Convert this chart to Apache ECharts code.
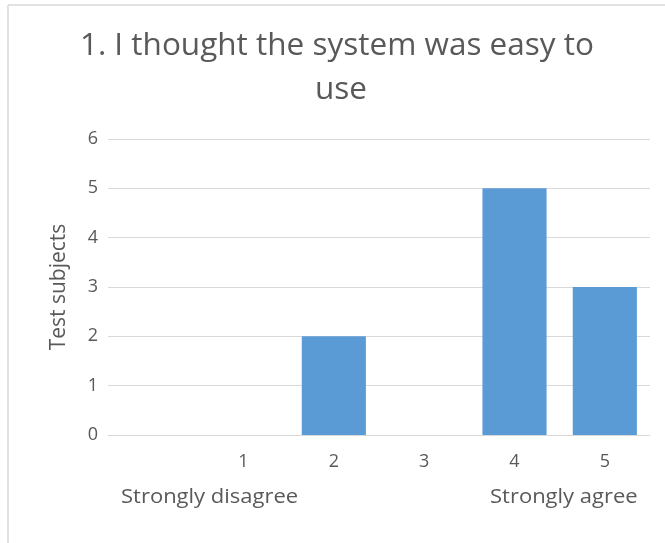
<!DOCTYPE html>
<html><head><meta charset="utf-8">
<script src="https://cdn.jsdelivr.net/npm/echarts@6/dist/echarts.min.js"></script>
<style>html,body{margin:0;padding:0;background:#fff}#c{width:665px;height:543px}</style>
</head><body><div id="c"></div>
<script>
var titleText = "1. I thought the system was easy to \nuse";
var categories = ["", "1", "2", "3", "4", "5"];
var values = [0, 0, 2, 0, 5, 3];
var yTicks = [0, 1, 2, 3, 4, 5, 6];
var yName = "Test subjects";
var lowLabel = "Strongly disagree";
var highLabel = "Strongly agree";

var chart = echarts.init(document.getElementById('c'));
var fontFam = '"Open Sans", sans-serif';
chart.setOption({
  animation: false,
  title: {
    text: titleText, left: 336, top: 19, textAlign: 'center',
    textStyle: {fontFamily: fontFam, fontSize: 31.5, fontWeight: 'normal', color: '#595959', lineHeight: 44}
  },
  grid: {left: 108, right: 15, top: 139, bottom: 108},
  xAxis: {
    type: 'category', data: categories,
    axisLine: {lineStyle: {color: '#d9d9d9', width: 1}},
    axisTick: {show: false},
    axisLabel: {color: '#595959', fontFamily: fontFam, fontSize: 18, margin: 18}
  },
  yAxis: {
    type: 'value', min: yTicks[0], max: yTicks[yTicks.length-1], interval: 1,
    name: yName, nameLocation: 'middle', nameGap: 38,
    nameTextStyle: {color: '#595959', fontFamily: fontFam, fontSize: 21},
    axisLine: {show: false}, axisTick: {show: false},
    axisLabel: {color: '#595959', fontFamily: fontFam, fontSize: 18, margin: 10},
    splitLine: {lineStyle: {color: '#d9d9d9', width: 1}}
  },
  series: [{
    type: 'bar', data: values, barCategoryGap: '29%',
    itemStyle: {color: '#5b9bd5'}
  }],
  graphic: [
    {type: 'line', shape: {x1: 8, y1: 5, x2: 665, y2: 5}, style: {stroke: '#d9d9d9', lineWidth: 1.5}},
    {type: 'line', shape: {x1: 8, y1: 5, x2: 8, y2: 543}, style: {stroke: '#d9d9d9', lineWidth: 1.5}},
    {type: 'text', x: 121, y: 487, scaleX: 1.1, style: {text: lowLabel, fill: '#595959', font: '20px ' + fontFam}},
    {type: 'text', x: 490, y: 487, scaleX: 1.1, style: {text: highLabel, fill: '#595959', font: '20px ' + fontFam}}
  ]
});
</script></body></html>
